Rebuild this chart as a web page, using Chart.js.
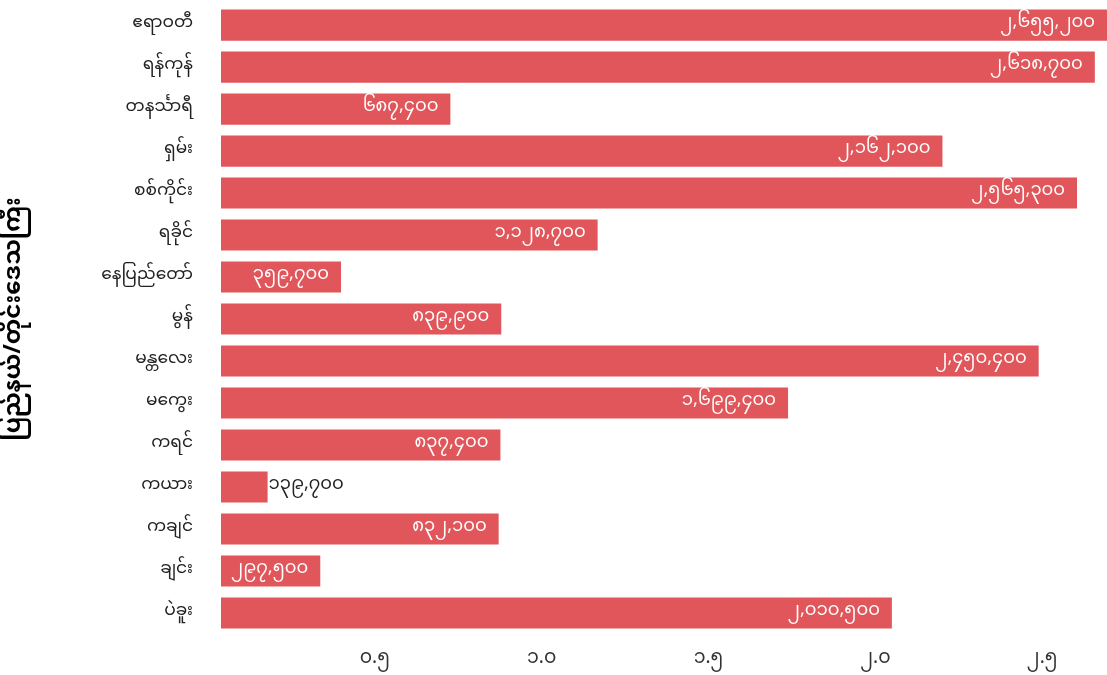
<!DOCTYPE html>
<html>
<head>
<meta charset="utf-8">
<script src="https://cdn.jsdelivr.net/npm/chart.js@4/dist/chart.umd.min.js"></script>
<style>
  html, body { margin: 0; padding: 0; background: #fff; }
  #wrap { width: 1107px; height: 675px; }
</style>
</head>
<body>
<div id="wrap"><canvas id="chart"></canvas></div>
<script>
const regions = ["ဧရာဝတီ", "ရန်ကုန်", "တနင်္သာရီ", "ရှမ်း", "စစ်ကိုင်း", "ရခိုင်", "နေပြည်တော်", "မွန်", "မန္တလေး", "မကွေး", "ကရင်", "ကယား", "ကချင်", "ချင်း", "ပဲခူး"];
const counts = [2655200, 2618700, 687400, 2162100, 2565300, 1128700, 359700, 839900, 2450400, 1699400, 837400, 139700, 832100, 297500, 2010500];
const tickStep = 500000;
const axisTitle = "ပြည်နယ်/တိုင်းဒေသကြီး";

const myDigits = "၀၁၂၃၄၅၆၇၈၉";
const toMy = s => String(s).replace(/[0-9]/g, d => myDigits[+d]);
const fontFamily = "'Noto Sans Myanmar', 'Padauk', 'Myanmar Text', 'Noto Sans', sans-serif";
const barColor = "#e0565b";

// draws the value at the end of each bar, inside when it fits
const valueLabels = {
  id: "valueLabels",
  afterDatasetsDraw(chart) {
    const ctx = chart.ctx;
    const meta = chart.getDatasetMeta(0);
    ctx.save();
    ctx.font = "18px " + fontFamily;
    ctx.textBaseline = "middle";
    meta.data.forEach((bar, i) => {
      const text = toMy(counts[i].toLocaleString("en-US"));
      const w = ctx.measureText(text).width;
      const barWidth = bar.x - bar.base;
      if (w + 12 < barWidth) {
        ctx.fillStyle = "#ffffff";
        ctx.textAlign = "right";
        ctx.fillText(text, Math.min(bar.x, chart.chartArea.right) - 12, bar.y);
      } else {
        ctx.fillStyle = "#222222";
        ctx.textAlign = "left";
        ctx.fillText(text, bar.x + 1, bar.y);
      }
    });
    ctx.restore();
  }
};

new Chart(document.getElementById("chart"), {
  type: "bar",
  data: {
    labels: regions,
    datasets: [{
      data: counts,
      backgroundColor: barColor,
      borderWidth: 0,
      categoryPercentage: 1,
      barPercentage: 0.74
    }]
  },
  plugins: [valueLabels],
  options: {
    indexAxis: "y",
    responsive: true,
    maintainAspectRatio: false,
    animation: false,
    layout: { padding: { top: 0, right: 0, bottom: 0, left: 4 } },
    plugins: {
      legend: { display: false },
      tooltip: { enabled: false }
    },
    scales: {
      x: {
        min: 0,
        max: Math.max(...counts),
        grid: { display: false, drawTicks: false },
        border: { display: false },
        afterFit: scale => { scale.height = 41; },
        afterBuildTicks: scale => {
          const ticks = [];
          for (let v = tickStep; v <= scale.max; v += tickStep) ticks.push({ value: v });
          scale.ticks = ticks;
        },
        ticks: {
          padding: 16,
          labelOffset: -13,
          color: "#333333",
          font: { size: 19, family: fontFamily },
          callback: value => toMy((value / 1e6).toFixed(1))
        }
      },
      y: {
        grid: { display: false, drawTicks: true, tickLength: 26 },
        border: { display: false },
        afterFit: scale => { scale.width = 217; },
        ticks: {
          padding: 2,
          color: "#222222",
          font: { size: 17, lineHeight: 0.25, family: fontFamily }
        },
        title: {
          display: true,
          text: axisTitle,
          color: "#000000",
          padding: 0,
          font: { size: 23, weight: "bold", family: fontFamily }
        }
      }
    }
  }
});
</script>
</body>
</html>
